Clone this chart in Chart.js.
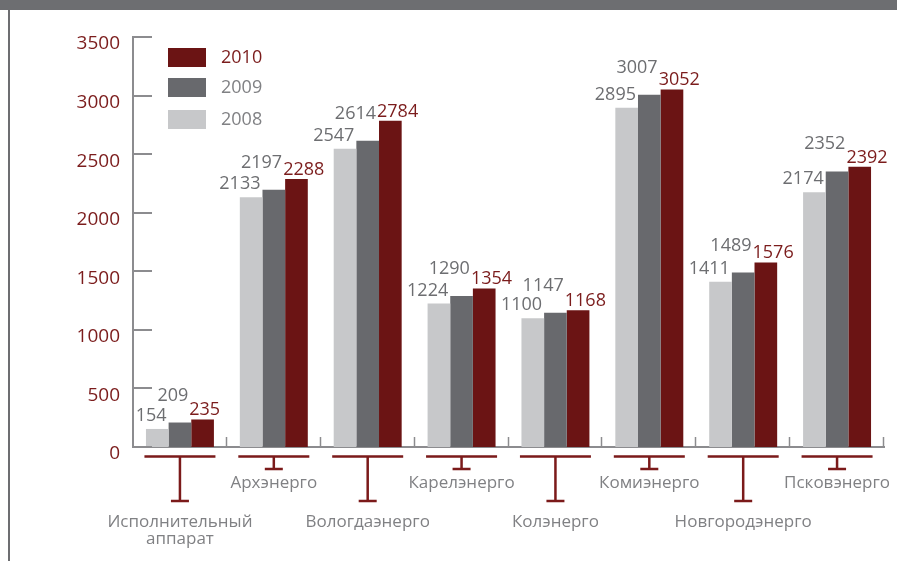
<!DOCTYPE html>
<html>
<head>
<meta charset="utf-8">
<script src="https://cdn.jsdelivr.net/npm/chart.js@4.4.0/dist/chart.umd.min.js"></script>
<style>
  html, body { margin: 0; padding: 0; background: #ffffff; }
  #wrap { position: absolute; left: 0; top: 0; width: 897px; height: 561px; }
  #band { position: absolute; left: 0; top: 0; width: 897px; height: 10px; background: #6d6e71; }
  #leftline { position: absolute; left: 8px; top: 10px; width: 2px; height: 551px; background: #6d6e71; }
</style>
</head>
<body>
<div id="wrap"><canvas id="c" width="897" height="561"></canvas></div>
<div id="band"></div>
<div id="leftline"></div>
<script>
const categories = [
  ['Исполнительный', 'аппарат'],
  ['Архэнерго'],
  ['Вологдаэнерго'],
  ['Карелэнерго'],
  ['Колэнерго'],
  ['Комиэнерго'],
  ['Новгородэнерго'],
  ['Псковэнерго']
];
const seriesNames = ['2008', '2009', '2010'];
const values2008 = [154, 2133, 2547, 1224, 1100, 2895, 1411, 2174];
const values2009 = [209, 2197, 2614, 1290, 1147, 3007, 1489, 2352];
const values2010 = [235, 2288, 2784, 1354, 1168, 3052, 1576, 2392];
const yTickValues = [0, 500, 1000, 1500, 2000, 2500, 3000, 3500];

const FONT = '"Open Sans", "Noto Sans", sans-serif';
const RED = '#6b1414';
const RED_TEXT = '#7b1c1c';
const DARK = '#68696d';
const LIGHT = '#c7c8ca';
const GRAY_TEXT = '#6d6e71';
const CAT_TEXT = '#808184';
const AXIS = '#8c8c8f';
const seriesColors = [LIGHT, DARK, RED];
const labelColors = [GRAY_TEXT, GRAY_TEXT, RED_TEXT];

const overlay = {
  id: 'overlay',
  afterDraw(chart) {
    const ctx = chart.ctx;
    const area = chart.chartArea;
    const xs = chart.scales.x;
    const ys = chart.scales.y;
    ctx.save();

    // inward tick marks on y axis
    ctx.strokeStyle = AXIS;
    ctx.lineWidth = 2;
    yTickValues.forEach(v => {
      const y = Math.round(ys.getPixelForValue(v));
      ctx.beginPath();
      ctx.moveTo(area.left, y);
      ctx.lineTo(area.left + 19, y);
      ctx.stroke();
    });

    // category separators on x axis
    const n = categories.length;
    const catW = (area.right - area.left) / n;
    ctx.lineWidth = 1.5;
    for (let i = 1; i <= n; i++) {
      const x = Math.round(area.left + i * catW) - 0.5;
      ctx.beginPath();
      ctx.moveTo(x, area.bottom);
      ctx.lineTo(x, area.bottom - 10);
      ctx.stroke();
    }

    // T markers + category labels
    ctx.strokeStyle = '#7b1a1a';
    ctx.lineWidth = 2.5;
    ctx.font = '17px ' + FONT;
    ctx.fillStyle = CAT_TEXT;
    ctx.textAlign = 'center';
    ctx.textBaseline = 'alphabetic';
    categories.forEach((lab, i) => {
      const cx = xs.getPixelForValue(i);
      const long = i % 2 === 0;
      const yTop = area.bottom + 9.5;
      const yBot = long ? area.bottom + 54 : area.bottom + 22;
      ctx.beginPath();
      ctx.moveTo(cx - 35.5, yTop);
      ctx.lineTo(cx + 35.5, yTop);
      ctx.moveTo(cx, yTop);
      ctx.lineTo(cx, yBot);
      ctx.moveTo(cx - 9, yBot);
      ctx.lineTo(cx + 9, yBot);
      ctx.stroke();
      const base = long ? area.bottom + 80 : area.bottom + 41;
      lab.forEach((line, k) => {
        ctx.fillText(line, cx, base + k * 17);
      });
    });

    // data labels
    ctx.font = '18px ' + FONT;
    ctx.textBaseline = 'alphabetic';
    chart.data.datasets.forEach((ds, di) => {
      const meta = chart.getDatasetMeta(di);
      ctx.fillStyle = labelColors[di];
      meta.data.forEach((bar, i) => {
        const w = bar.width;
        const v = ds.data[i];
        if (di === 0) {
          ctx.textAlign = 'right';
          ctx.fillText(String(v), bar.x + w / 2 - 2, bar.y - 8);
        } else if (di === 1) {
          ctx.textAlign = 'right';
          ctx.fillText(String(v), bar.x + w / 2 - 3, bar.y - 22);
        } else {
          ctx.textAlign = 'left';
          ctx.fillText(String(v), bar.x - w / 2 - 2, bar.y - 4);
        }
      });
    });

    // legend (2010 on top)
    const lx = area.left + 35;
    const rows = [2, 1, 0];
    const rowY = [48, 78, 110];
    ctx.font = '18px ' + FONT;
    ctx.textAlign = 'left';
    ctx.textBaseline = 'middle';
    rows.forEach((di, r) => {
      const ds = chart.data.datasets[di];
      ctx.fillStyle = ds.backgroundColor;
      ctx.fillRect(lx, rowY[r], 38, 19);
      ctx.fillStyle = di === 2 ? RED_TEXT : CAT_TEXT;
      ctx.fillText(ds.label, lx + 53, rowY[r] + 10);
    });

    ctx.restore();
  }
};

new Chart(document.getElementById('c'), {
  type: 'bar',
  data: {
    labels: categories.map(c => c.join(' ')),
    datasets: [
      { label: seriesNames[0], data: values2008, backgroundColor: seriesColors[0] },
      { label: seriesNames[1], data: values2009, backgroundColor: seriesColors[1] },
      { label: seriesNames[2], data: values2010, backgroundColor: seriesColors[2] }
    ]
  },
  options: {
    responsive: false,
    animation: false,
    devicePixelRatio: 1,
    layout: { padding: { top: 37, right: 13, bottom: 0, left: 0 } },
    datasets: { bar: { categoryPercentage: 0.724, barPercentage: 1.0, borderWidth: 0 } },
    plugins: { legend: { display: false }, tooltip: { enabled: false }, title: { display: false } },
    scales: {
      x: {
        grid: { display: false, drawTicks: false },
        border: { display: true, color: AXIS, width: 2 },
        ticks: { display: false },
        afterFit(scale) { scale.height = 114; }
      },
      y: {
        min: 0,
        max: 3500,
        afterBuildTicks(scale) { scale.ticks = yTickValues.map(v => ({ value: v })); },
        grid: { display: false, drawTicks: false },
        border: { display: true, color: AXIS, width: 2 },
        ticks: {
          color: RED_TEXT,
          font: { family: FONT, size: 19 },
          padding: 13,
          labelOffset: 7,
          callback: (v) => String(v)
        },
        afterFit(scale) { scale.width = 133; }
      }
    }
  },
  plugins: [overlay]
});
</script>
</body>
</html>
